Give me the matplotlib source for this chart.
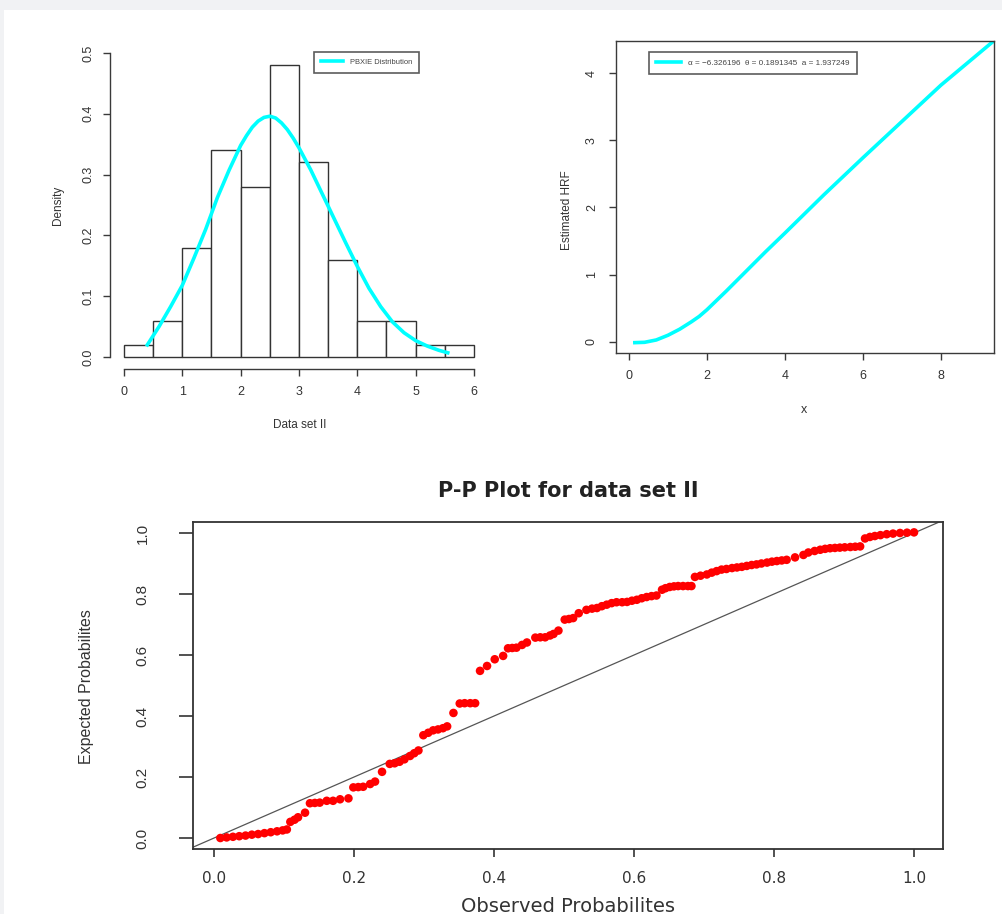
import matplotlib
matplotlib.use("Agg")
import matplotlib.pyplot as plt
from matplotlib.patches import Rectangle

# ---------------- data ----------------
hist_left = [0.0, 0.5, 1.0, 1.5, 2.0, 2.5, 3.0, 3.5, 4.0, 4.5, 5.0, 5.5]
hist_density = [0.02, 0.06, 0.18, 0.34, 0.28, 0.48, 0.32, 0.16, 0.06, 0.06, 0.02, 0.02]
hist_bin_width = 0.5

pdf_x = [0.4, 0.6, 0.8, 1.0, 1.2, 1.4, 1.6, 1.8, 2.0, 2.1, 2.2, 2.3, 2.4, 2.5, 2.6, 2.7, 2.8,
         2.9, 3.0, 3.2, 3.4, 3.6, 3.8, 4.0, 4.2, 4.4, 4.6, 4.8, 5.0, 5.2, 5.4, 5.55]
pdf_y = [0.020, 0.050, 0.083, 0.118, 0.163, 0.210, 0.262, 0.307, 0.348, 0.364, 0.378, 0.388,
         0.394, 0.396, 0.393, 0.385, 0.374, 0.360, 0.344, 0.308, 0.268, 0.228, 0.188, 0.149,
         0.113, 0.083, 0.058, 0.040, 0.027, 0.018, 0.011, 0.007]

hrf_x = [0.15, 0.4, 0.7, 1.0, 1.3, 1.6, 1.8, 2.0, 2.5, 3.0, 3.5, 4.0, 5.0, 6.0, 7.0, 8.0, 9.36]
hrf_y = [-0.01, -0.005, 0.03, 0.10, 0.19, 0.30, 0.38, 0.48, 0.76, 1.05, 1.34, 1.62, 2.19,
         2.74, 3.28, 3.82, 4.48]

pp_obs = [0.009, 0.018, 0.027, 0.036, 0.045, 0.054, 0.063, 0.072, 0.081, 0.090, 0.098, 0.104,
          0.109, 0.115, 0.120, 0.130,
          0.137, 0.144, 0.151, 0.161, 0.170, 0.180, 0.192,
          0.199, 0.206, 0.213, 0.223, 0.230,
          0.240, 0.251, 0.258, 0.265, 0.272, 0.280, 0.286, 0.292,
          0.299, 0.306, 0.313, 0.320, 0.327, 0.333,
          0.342, 0.351, 0.358, 0.366, 0.373,
          0.380, 0.390, 0.401, 0.413, 0.420, 0.426, 0.432, 0.440, 0.447, 0.459, 0.466, 0.473,
          0.480, 0.485, 0.492,
          0.501, 0.507, 0.513, 0.521, 0.532, 0.540, 0.547, 0.554, 0.561, 0.568, 0.575, 0.583,
          0.590, 0.597, 0.604, 0.611, 0.618, 0.625, 0.632,
          0.640, 0.645, 0.651, 0.657, 0.663, 0.670, 0.677, 0.682,
          0.687, 0.695, 0.704, 0.711, 0.718, 0.725, 0.732, 0.740, 0.747, 0.754, 0.761, 0.768,
          0.775, 0.782, 0.790, 0.797, 0.804, 0.811, 0.818, 0.830, 0.842, 0.849, 0.858, 0.866,
          0.873, 0.880, 0.887, 0.894, 0.901, 0.909, 0.916, 0.923,
          0.930, 0.937, 0.944, 0.952, 0.961, 0.970, 0.980, 0.990, 1.000]
pp_exp = [0.000, 0.002, 0.004, 0.006, 0.008, 0.011, 0.013, 0.016, 0.019, 0.022, 0.025, 0.028,
          0.053, 0.060, 0.068, 0.083,
          0.114, 0.115, 0.116, 0.122, 0.122, 0.127, 0.130,
          0.166, 0.167, 0.168, 0.177, 0.185,
          0.217, 0.243, 0.245, 0.250, 0.258, 0.269, 0.278, 0.287,
          0.337, 0.345, 0.353, 0.356, 0.360, 0.366,
          0.410, 0.441, 0.442, 0.442, 0.442,
          0.548, 0.564, 0.586, 0.597, 0.622, 0.623, 0.624, 0.633, 0.641, 0.657, 0.658, 0.658,
          0.664, 0.669, 0.680,
          0.716, 0.718, 0.721, 0.737, 0.748, 0.752, 0.754, 0.760, 0.765, 0.770, 0.773, 0.773,
          0.774, 0.778, 0.781, 0.786, 0.790, 0.793, 0.795,
          0.814, 0.819, 0.823, 0.825, 0.826, 0.826, 0.826, 0.826,
          0.856, 0.860, 0.864, 0.870, 0.875, 0.880, 0.882, 0.885, 0.887, 0.889, 0.892, 0.895,
          0.897, 0.900, 0.903, 0.906, 0.908, 0.910, 0.912, 0.920, 0.928, 0.936, 0.941, 0.945,
          0.948, 0.950, 0.951, 0.952, 0.953, 0.954, 0.955, 0.956,
          0.982, 0.987, 0.990, 0.993, 0.996, 0.998, 1.000, 1.001, 1.002]

hist_xticks = [0, 1, 2, 3, 4, 5, 6]
hist_yticks = [0.0, 0.1, 0.2, 0.3, 0.4, 0.5]
hrf_xticks = [0, 2, 4, 6, 8]
hrf_yticks = [0, 1, 2, 3, 4]
pp_ticks = [0.0, 0.2, 0.4, 0.6, 0.8, 1.0]

legend_pdf = "PBXIE Distribution"
legend_hrf = "α = −6.326196  θ = 0.1891345  a = 1.937249"

# ---------------- layout helpers ----------------
W, H = 1003, 914
fig = plt.figure(figsize=(W / 100, H / 100), dpi=100)
fig.patch.set_facecolor("#f1f2f4")
fig.add_artist(Rectangle((4 / W, 0), 1, (H - 10) / H, transform=fig.transFigure,
                         facecolor="white", edgecolor="none", zorder=-10))


def px_axes(l, r, t, b):
    return fig.add_axes([l / W, 1 - b / H, (r - l) / W, (b - t) / H])


SANS = ["Liberation Sans", "DejaVu Sans"]
WIDE = ["DejaVu Sans"]
AXC = "#3a3a3a"

# ---------------- top-left: histogram ----------------
ax1 = px_axes(110, 488, 40.8, 369.2)
ax1.set_facecolor("none")
ax1.bar(hist_left, hist_density, width=hist_bin_width, align="edge",
        facecolor="white", edgecolor="#333333", linewidth=1.0, zorder=2)
ax1.plot(pdf_x, pdf_y, color="#00FFFF", linewidth=2.6, zorder=3, label=legend_pdf)
ax1.set_xlim(-0.24, 6.24)
ax1.set_ylim(-0.02, 0.52)
for s in ["top", "right"]:
    ax1.spines[s].set_visible(False)
ax1.spines["left"].set_bounds(0, 0.5)
ax1.spines["bottom"].set_bounds(0, 6)
for s in ["left", "bottom"]:
    ax1.spines[s].set_color(AXC)
    ax1.spines[s].set_linewidth(1.0)
ax1.set_xticks(hist_xticks)
ax1.set_xticklabels([str(v) for v in hist_xticks], fontfamily=SANS, fontsize=9)
ax1.set_yticks(hist_yticks)
ax1.set_yticklabels([f"{v:.1f}" for v in hist_yticks], fontfamily=SANS, fontsize=9,
                    rotation=90, va="center")
ax1.tick_params(axis="both", length=5, width=1.0, color=AXC, labelcolor="#333333")
ax1.tick_params(axis="x", pad=7)
ax1.tick_params(axis="y", pad=6)
ax1.set_xlabel("Data set II", fontfamily=SANS, fontsize=8.5, color="#333333")
ax1.xaxis.set_label_coords((300 - 110) / 378, (369.2 - 425) / 328.4)
ax1.xaxis.label.set_va("center")
ax1.set_ylabel("Density", fontfamily=SANS, fontsize=8.5, color="#333333")
ax1.yaxis.set_label_coords((58 - 110) / 378, (369.2 - 205) / 328.4)
ax1.yaxis.label.set_va("center")
leg1 = ax1.legend(loc="upper left", bbox_to_anchor=((314 - 110) / 378, (369.2 - 52) / 328.4),
                  prop={"family": SANS, "size": 5.4}, frameon=True, fancybox=False,
                  handlelength=3.0, borderpad=0.9, handletextpad=0.9, borderaxespad=0)
leg1.get_frame().set_edgecolor("#333333")
leg1.get_frame().set_linewidth(1.2)
for t in leg1.get_texts():
    t.set_color("#444444")

# ---------------- top-right: HRF ----------------
ax2 = px_axes(616, 994, 41, 353)
ax2.plot(hrf_x, hrf_y, color="#00FFFF", linewidth=2.6, label=legend_hrf)
ax2.set_xlim(-0.333, 9.36)
ax2.set_ylim(-0.164, 4.476)
for s in ax2.spines.values():
    s.set_color(AXC)
    s.set_linewidth(1.0)
ax2.set_xticks(hrf_xticks)
ax2.set_xticklabels([str(v) for v in hrf_xticks], fontfamily=SANS, fontsize=9)
ax2.set_yticks(hrf_yticks)
ax2.set_yticklabels([str(v) for v in hrf_yticks], fontfamily=SANS, fontsize=9,
                    rotation=90, va="center")
ax2.tick_params(axis="both", length=5, width=1.0, color=AXC, labelcolor="#333333")
ax2.tick_params(axis="x", pad=7)
ax2.tick_params(axis="y", pad=8)
ax2.set_xlabel("x", fontfamily=SANS, fontsize=9, color="#333333")
ax2.xaxis.set_label_coords((804 - 616) / 378, (353 - 410) / 312)
ax2.xaxis.label.set_va("center")
ax2.set_ylabel("Estimated HRF", fontfamily=SANS, fontsize=8.5, color="#333333")
ax2.yaxis.set_label_coords((567 - 616) / 378, (353 - 210) / 312)
ax2.yaxis.label.set_va("center")
leg2 = ax2.legend(loc="upper left", bbox_to_anchor=((649 - 616) / 378, (353 - 52) / 312),
                  prop={"family": SANS, "size": 5.9}, frameon=True, fancybox=False,
                  handlelength=3.0, borderpad=0.9, handletextpad=0.9, borderaxespad=0)
leg2.get_frame().set_edgecolor("#333333")
leg2.get_frame().set_linewidth(1.2)
for t in leg2.get_texts():
    t.set_color("#444444")

# ---------------- bottom: P-P plot ----------------
ax3 = px_axes(192.7, 943, 521.7, 849)
ax3.axline((0, 0), slope=1, color="#555555", linewidth=0.9, zorder=1)
ax3.scatter(pp_obs, pp_exp, s=38, color="#FF0000", edgecolors="none", zorder=3)
ax3.set_xlim(-0.0305, 1.0414)
ax3.set_ylim(-0.036, 1.037)
for s in ax3.spines.values():
    s.set_color("#333333")
    s.set_linewidth(1.3)
ax3.set_xticks(pp_ticks)
ax3.set_xticklabels([f"{v:.1f}" for v in pp_ticks], fontfamily=WIDE, fontsize=11)
ax3.set_yticks(pp_ticks)
ax3.set_yticklabels([f"{v:.1f}" for v in pp_ticks], fontfamily=SANS, fontsize=11,
                    rotation=90, va="center")
ax3.tick_params(axis="x", length=6, width=1.2, color="#333333", labelcolor="#333333", pad=10)
ax3.tick_params(axis="y", length=10, width=1.2, color="#333333", labelcolor="#333333", pad=21)
ax3.set_title("P-P Plot for data set II", fontfamily=WIDE, fontsize=15, fontweight="bold",
              color="#222222", x=(568 - 192.7) / 750.3, y=(849 - 491) / 327.3, va="center",
              pad=0)
ax3.set_xlabel("Observed Probabilites", fontfamily=WIDE, fontsize=14, color="#333333")
ax3.xaxis.set_label_coords((568 - 192.7) / 750.3, (849 - 906) / 327.3)
ax3.xaxis.label.set_va("center")
ax3.set_ylabel("Expected Probabilites", fontfamily=SANS, fontsize=11.5, color="#333333")
ax3.yaxis.set_label_coords((87 - 192.7) / 750.3, (849 - 687) / 327.3)
ax3.yaxis.label.set_va("center")

fig.savefig("out.png", dpi=100, facecolor=fig.get_facecolor())
